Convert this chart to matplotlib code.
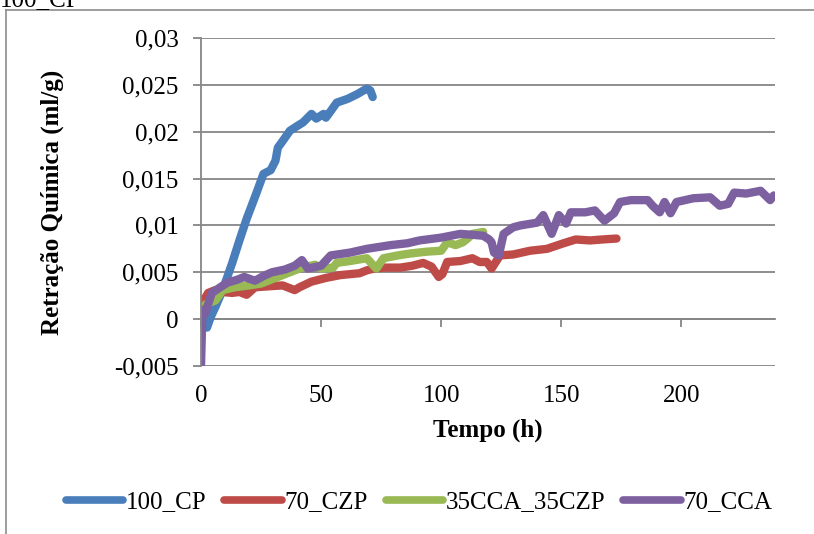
import numpy as np
import matplotlib.pyplot as plt

plt.rcParams['font.family'] = ['Liberation Serif', 'DejaVu Serif']

# data (time in h, chemical shrinkage in ml/g)
t_cp = [0, 1, 2.5, 4, 6, 8, 10, 13, 16, 19, 23, 26, 29, 31, 32, 34, 37, 40, 42.5,
        46, 48, 51, 52, 54, 56.5, 61, 65, 69, 70.5, 71.5]
v_cp = [0.0005, -0.0003, -0.0009, 0.0002, 0.0013, 0.0025, 0.0038, 0.006, 0.0084,
        0.0107, 0.0134, 0.0155, 0.0159, 0.0169, 0.0183, 0.019, 0.0201, 0.0206, 0.021,
        0.0219, 0.0214, 0.0219, 0.0215, 0.0222, 0.0231, 0.0235, 0.0240, 0.0246, 0.0244,
        0.0237]

t_czp = [0, 0.4, 3, 6, 8.8, 13, 16, 19, 22.5, 28, 34, 39, 41, 46, 52, 58, 66, 69,
         72, 76, 83, 88, 92.5, 96, 99, 100.5, 102.5, 108, 113, 116, 119, 121, 124.5,
         130, 137, 144, 151, 156, 162, 167, 173]
v_czp = [0.0012, 0.0017, 0.0028, 0.0031, 0.0029, 0.0028, 0.0029, 0.0026, 0.0034,
         0.0035, 0.0036, 0.0031, 0.0034, 0.004, 0.0044, 0.0047, 0.0049, 0.0052, 0.0054,
         0.0055, 0.0055, 0.0057, 0.006, 0.0056, 0.0045, 0.0048, 0.0061, 0.0062, 0.0065,
         0.0061, 0.0061, 0.0054, 0.0068, 0.0069, 0.0073, 0.0075, 0.0081, 0.0085, 0.0084,
         0.0085, 0.0086]

t_mix = [0, 2, 6, 9, 14, 20, 25, 32, 37, 42, 47.5, 50, 55, 56.5, 62, 69, 73, 76,
         82, 87, 94, 100, 102.5, 106, 109, 111, 113, 117.5]
v_mix = [0.0010, 0.0016, 0.002, 0.0031, 0.0034, 0.0036, 0.0038, 0.0045, 0.005,
         0.0055, 0.0058, 0.0054, 0.0055, 0.006, 0.0062, 0.0065, 0.0054, 0.0065, 0.0068,
         0.007, 0.0072, 0.0073, 0.0082, 0.0079, 0.0082, 0.0086, 0.0091, 0.0093]

t_cca = [0, 0.3, 0.6, 1.7, 4.5, 8, 11, 15, 18, 22.5, 26, 29.5, 35, 39, 42, 44.5, 50,
         54, 62, 69, 79, 86, 91, 100, 108, 113, 117.5, 120, 121, 122, 124, 126, 130,
         133, 140, 142.5, 146, 149, 152, 154, 160, 164, 168, 170, 172, 174.5, 179,
         186, 188, 191, 193, 195.5, 198, 205, 212, 216, 219.5, 222, 227, 233, 237,
         238.5]
v_cca = [-0.005, -0.002, 0.001, 0.0006, 0.0028, 0.0034, 0.0039, 0.0042, 0.0045,
         0.0041, 0.0046, 0.005, 0.0053, 0.0057, 0.0063, 0.0054, 0.0057, 0.0068, 0.0071,
         0.0075, 0.0079, 0.0081, 0.0084, 0.0087, 0.0091, 0.009, 0.0089, 0.0085, 0.0082,
         0.0071, 0.0068, 0.0091, 0.0098, 0.01, 0.0103, 0.0111, 0.0091, 0.0111, 0.0102,
         0.0114, 0.0114, 0.0116, 0.0105, 0.0109, 0.0113, 0.0125, 0.0127, 0.0127, 0.0121,
         0.0114, 0.0125, 0.0113, 0.0125, 0.0129, 0.013, 0.0121, 0.0123, 0.0135, 0.0134,
         0.0137, 0.0127, 0.0132]

series = [
    ('100_CP', t_cp, v_cp, '#4A7EBB'),
    ('70_CZP', t_czp, v_czp, '#BE4B48'),
    ('35CCA_35CZP', t_mix, v_mix, '#98B954'),
    ('70_CCA', t_cca, v_cca, '#7D60A0'),
]

x_ticks = [0, 50, 100, 150, 200]
y_ticks = [-0.005, 0, 0.005, 0.01, 0.015, 0.02, 0.025, 0.03]

grey = '#868686'

# %%
fig = plt.figure(figsize=(8.14, 5.34), dpi=100)
ax = fig.add_axes([201 / 814, 168 / 534, 574 / 814, 328 / 534])

for name, t, v, c in series:
    ax.plot(t, v, color=c, lw=6, label=name, solid_capstyle='round',
            solid_joinstyle='round')

ax.set_xlim(0, 239)
ax.set_ylim(-0.005, 0.03)
ax.set_yticks(y_ticks)
ax.set_yticklabels([f'{y:g}'.replace('.', ',') for y in y_ticks])
ax.set_xticks(x_ticks)
ax.set_xticklabels([str(x) for x in x_ticks])
ax.grid(axis='y', color=grey, lw=1.3)
ax.set_axisbelow(True)

for s in ['top', 'right', 'bottom']:
    ax.spines[s].set_visible(False)
ax.spines['left'].set_color(grey)
ax.spines['left'].set_linewidth(1.3)
ax.tick_params(axis='y', length=6, width=1.3, color=grey, labelsize=18, pad=10)
ax.tick_params(axis='x', length=0, labelsize=18, pad=14)

# x axis line crosses at y = 0
sec = ax.secondary_xaxis(0.005 / 0.035)
sec.spines['bottom'].set_color(grey)
sec.spines['bottom'].set_linewidth(1.3)
sec.set_xticks(x_ticks)
sec.tick_params(axis='x', length=6, width=1.3, color=grey, labelbottom=False)

ax.set_xlabel('Tempo (h)', fontsize=18, fontweight='bold', labelpad=8)
ax.set_ylabel('Retração Química (ml/g)', fontsize=18, fontweight='bold')
ax.yaxis.label.set_va('center')
ax.yaxis.set_label_coords((52 - 201) / 574, (366 - 202) / 328)

leg = fig.legend(loc='center', bbox_to_anchor=(419 / 814, 1 - 502 / 534), ncol=4,
                 frameon=False, fontsize=18, handlelength=2.3, handletextpad=0.12,
                 columnspacing=0.7)
for line in leg.get_lines():
    line.set_linewidth(5.5)
    line.set_solid_capstyle('round')

# chart area frame and cut-off title
fig.add_artist(plt.Line2D([6 / 814, 6 / 814], [0, 1 - 10 / 534], color='#8c8c8c',
                          lw=1.2, transform=fig.transFigure))
fig.add_artist(plt.Line2D([6 / 814, 1], [1 - 10 / 534, 1 - 10 / 534], color='#8c8c8c',
                          lw=1.2, transform=fig.transFigure))
fig.text(0.0, 1 - 6 / 534, '100_CP', fontsize=18, va='baseline', ha='left')

plt.savefig('out.png', dpi=100)
